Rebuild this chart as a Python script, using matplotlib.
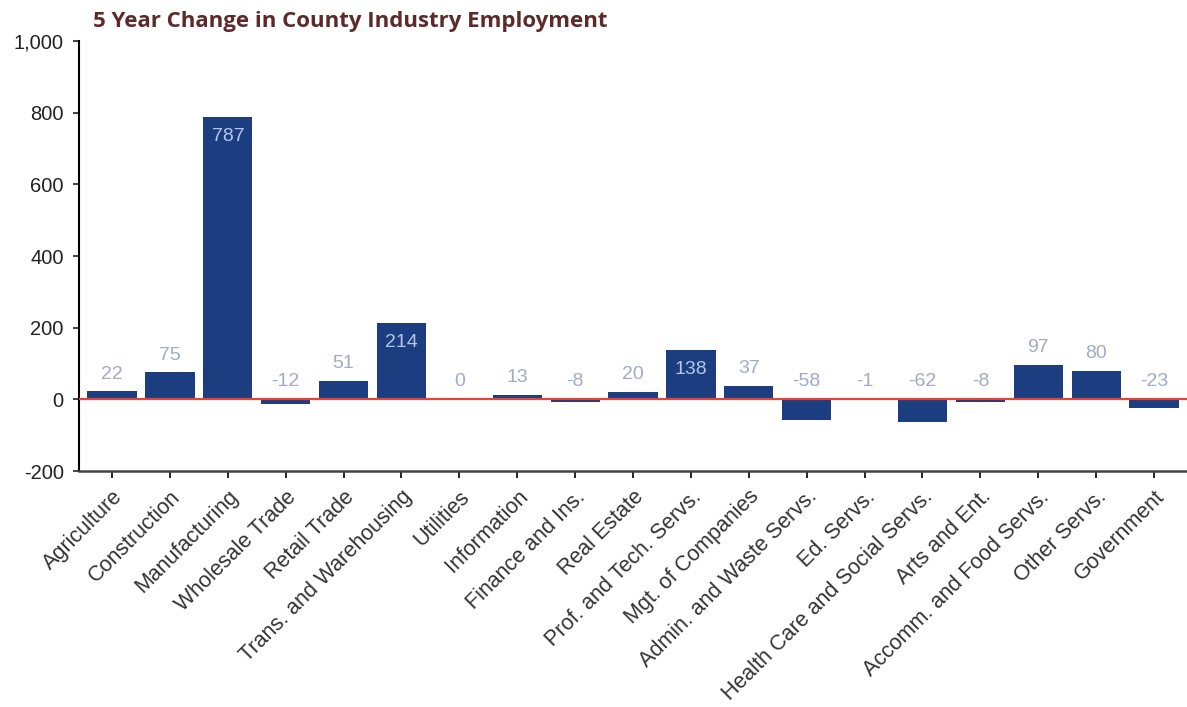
import matplotlib.pyplot as plt
from matplotlib.transforms import ScaledTranslation

categories = ["Agriculture", "Construction", "Manufacturing", "Wholesale Trade",
              "Retail Trade", "Trans. and Warehousing", "Utilities", "Information",
              "Finance and Ins.", "Real Estate", "Prof. and Tech. Servs.",
              "Mgt. of Companies", "Admin. and Waste Servs.", "Ed. Servs.",
              "Health Care and Social Servs.", "Arts and Ent.",
              "Accomm. and Food Servs.", "Other Servs.", "Government"]
change = [22, 75, 787, -12, 51, 214, 0, 13, -8, 20, 138, 37, -58, -1, -62, -8, 97, 80, -23]
yticks = [-200, 0, 200, 400, 600, 800, 1000]
title = "5 Year Change in County Industry Employment"

plt.rcParams['font.family'] = ['Liberation Sans', 'DejaVu Sans']

fig = plt.figure(figsize=(11.87, 7.07), dpi=100)
ax = fig.add_axes([0.0666, 0.3338, 0.9334, 0.608])

x = range(len(categories))
ax.bar(x, change, width=0.85, color="#1c3d80", zorder=2)
ax.axhline(0, color="#e0463c", lw=1.6, zorder=3)

# value labels: big bars get it inside, the rest sit above the bar / zero line
for i, v in enumerate(change):
    if v >= 100:
        ax.annotate(str(v), (i, v), xytext=(0, -14), textcoords="offset points",
                    ha="center", va="center", fontsize=14, color="#b4c6ea")
    else:
        ax.annotate(str(v), (i, max(v, 0)), xytext=(0, 12.5), textcoords="offset points",
                    ha="center", va="center", fontsize=14, color="#a0abc4")

ax.set_xlim(-0.57, len(categories) - 0.43)
ax.set_ylim(-200, 1000)
ax.set_yticks(yticks)
ax.set_yticklabels([f"{t:,}" for t in yticks])
ax.set_xticks(list(x))
ax.set_xticklabels(categories, rotation=45, ha="right", rotation_mode="anchor")

shift = ScaledTranslation(12 / 100, -3 / 100, fig.dpi_scale_trans)
for lab in ax.get_xticklabels():
    lab.set_transform(lab.get_transform() + shift)

ax.tick_params(axis="y", length=4, width=1.2, pad=7, labelsize=14.5, colors="#222222")
ax.tick_params(axis="x", length=5, width=1.2, pad=6, labelsize=15.5, labelcolor="#333333")
for side in ["top", "right"]:
    ax.spines[side].set_visible(False)
ax.spines["left"].set_linewidth(1.5)
ax.spines["bottom"].set_linewidth(1.8)
ax.spines["bottom"].set_color("#444444")

fig.text(0.078, 0.985, title, ha="left", va="top", fontsize=16,
         fontweight="bold", color="#5c2a2a", family="Open Sans")

fig.savefig("out.png", dpi=100)
